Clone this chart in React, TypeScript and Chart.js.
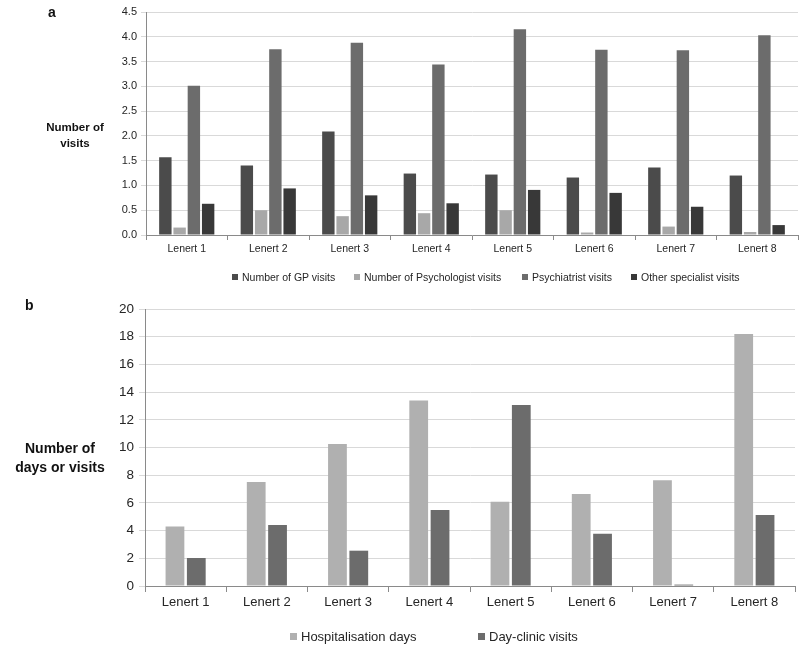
import React, { useEffect, useRef } from "react";
import { Chart, registerables } from "chart.js";
Chart.register(...registerables);

const categories = ["Lenert 1", "Lenert 2", "Lenert 3", "Lenert 4", "Lenert 5", "Lenert 6", "Lenert 7", "Lenert 8"];
const gpVisits = [1.57, 1.4, 2.09, 1.24, 1.22, 1.16, 1.36, 1.2];
const psychologistVisits = [0.15, 0.5, 0.38, 0.44, 0.5, 0.05, 0.17, 0.06];
const psychiatristVisits = [3.01, 3.75, 3.88, 3.44, 4.15, 3.74, 3.73, 4.03];
const otherSpecialistVisits = [0.63, 0.94, 0.8, 0.64, 0.91, 0.85, 0.57, 0.2];
const hospitalisationDays = [4.29, 7.51, 10.25, 13.39, 6.09, 6.64, 7.63, 18.2];
const dayClinicVisits = [2.02, 4.4, 2.55, 5.49, 13.07, 3.78, 0.1, 5.13];

const topLegend = ["Number of GP visits", "Number of Psychologist visits", "Psychiatrist visits", "Other specialist visits"];
const bottomLegend = ["Hospitalisation days", "Day-clinic visits"];

const FONT = "'Liberation Sans', Arial, sans-serif";
const C_GP = "#4b4b4b";
const C_PSYCHOLOGIST = "#a8a8a8";
const C_PSYCHIATRIST = "#6c6c6c";
const C_OTHER = "#383838";
const C_HOSP = "#b0b0b0";
const C_DAY = "#6c6c6c";
const GRID = "#d9d9d9";
const AXIS = "#8a8a8a";
const TEXT = "#262626";

function TopChart() {
  const ref = useRef<HTMLCanvasElement | null>(null);
  useEffect(() => {
    if (!ref.current) return;
    const colors = [C_GP, C_PSYCHOLOGIST, C_PSYCHIATRIST, C_OTHER];
    const series = [gpVisits, psychologistVisits, psychiatristVisits, otherSpecialistVisits];
    const chart = new Chart(ref.current, {
      type: "bar",
      data: {
        labels: categories,
        datasets: series.map((d, i) => ({
          label: topLegend[i],
          data: d,
          backgroundColor: colors[i],
          borderWidth: 0,
          categoryPercentage: 0.7,
          barPercentage: 0.87,
        })),
      },
      options: {
        responsive: false,
        animation: false,
        layout: { padding: { top: 12, right: 2, left: 0, bottom: 0 } },
        plugins: { legend: { display: false }, tooltip: { enabled: false } },
        scales: {
          x: {
            grid: { display: true, drawOnChartArea: false, drawTicks: true, tickLength: 5, color: AXIS, offset: true },
            border: { display: true, color: AXIS, width: 1 },
            ticks: { color: TEXT, font: { family: FONT, size: 10.5 }, padding: 3 },
            afterFit: (s: any) => { s.height = 55; },
          },
          y: {
            min: 0,
            max: 4.5,
            grid: { color: GRID, lineWidth: 1, drawTicks: true, tickLength: 5, tickColor: GRID },
            border: { display: true, color: AXIS, width: 1 },
            ticks: { stepSize: 0.5, color: TEXT, font: { family: FONT, size: 11 }, padding: 4, callback: (v: any) => Number(v).toFixed(1) },
            afterFit: (s: any) => { s.width = 146; },
          },
        },
      },
    });
    return () => chart.destroy();
  }, []);
  return <canvas ref={ref} width={800} height={290} style={{ position: "absolute", left: 0, top: 0 }} />;
}

function BottomChart() {
  const ref = useRef<HTMLCanvasElement | null>(null);
  useEffect(() => {
    if (!ref.current) return;
    const chart = new Chart(ref.current, {
      type: "bar",
      data: {
        labels: categories,
        datasets: [
          { label: bottomLegend[0], data: hospitalisationDays, backgroundColor: C_HOSP, borderWidth: 0, categoryPercentage: 0.525, barPercentage: 0.88 },
          { label: bottomLegend[1], data: dayClinicVisits, backgroundColor: C_DAY, borderWidth: 0, categoryPercentage: 0.525, barPercentage: 0.88 },
        ],
      },
      options: {
        responsive: false,
        animation: false,
        layout: { padding: { top: 19, right: 5, left: 0, bottom: 0 } },
        plugins: { legend: { display: false }, tooltip: { enabled: false } },
        scales: {
          x: {
            grid: { display: true, drawOnChartArea: false, drawTicks: true, tickLength: 6, color: AXIS, offset: true },
            border: { display: true, color: AXIS, width: 1 },
            ticks: { color: TEXT, font: { family: FONT, size: 13 }, padding: 3 },
            afterFit: (s: any) => { s.height = 63; },
          },
          y: {
            min: 0,
            max: 20,
            grid: { color: GRID, lineWidth: 1, drawTicks: true, tickLength: 6, tickColor: GRID },
            border: { display: true, color: AXIS, width: 1 },
            ticks: { stepSize: 2, color: TEXT, font: { family: FONT, size: 13.5 }, padding: 5 },
            afterFit: (s: any) => { s.width = 145; },
          },
        },
      },
    });
    return () => chart.destroy();
  }, []);
  return <canvas ref={ref} width={800} height={359} style={{ position: "absolute", left: 0, top: 290 }} />;
}

function LegendItem({ x, y, color, text, size, box }: { x: number; y: number; color: string; text: string; size: number; box: number }) {
  return (
    <div style={{ position: "absolute", left: x, top: y, display: "flex", alignItems: "center", whiteSpace: "nowrap", fontFamily: FONT, fontSize: size, color: TEXT, lineHeight: 1 }}>
      <span style={{ display: "inline-block", width: box, height: box, background: color, marginRight: 4 }} />
      <span>{text}</span>
    </div>
  );
}

export default function App() {
  const topColors = [C_GP, C_PSYCHOLOGIST, C_PSYCHIATRIST, C_OTHER];
  const topX = [232, 354, 522, 631];
  const botColors = [C_HOSP, C_DAY];
  const botX = [290, 478];
  return (
    <div style={{ position: "absolute", left: 0, top: 0, width: 800, height: 649, background: "#fff", overflow: "hidden" }}>
      <TopChart />
      <BottomChart />
      <div style={{ position: "absolute", left: 48, top: 4, fontFamily: FONT, fontWeight: "bold", fontSize: 14, color: "#111" }}>a</div>
      <div style={{ position: "absolute", left: 25, top: 297, fontFamily: FONT, fontWeight: "bold", fontSize: 14, color: "#111" }}>b</div>
      <div style={{ position: "absolute", left: 30, top: 120, width: 90, textAlign: "center", fontFamily: FONT, fontWeight: "bold", fontSize: 11.5, lineHeight: "15.5px", color: "#111" }}>
        Number of<br />visits
      </div>
      <div style={{ position: "absolute", left: 0, top: 439, width: 120, textAlign: "center", fontFamily: FONT, fontWeight: "bold", fontSize: 14, lineHeight: "19px", color: "#111" }}>
        Number of<br />days or visits
      </div>
      {topLegend.map((t, i) => (
        <LegendItem key={t} x={topX[i]} y={272} color={topColors[i]} text={t} size={10.5} box={6} />
      ))}
      {bottomLegend.map((t, i) => (
        <LegendItem key={t} x={botX[i]} y={630} color={botColors[i]} text={t} size={13} box={7} />
      ))}
    </div>
  );
}
